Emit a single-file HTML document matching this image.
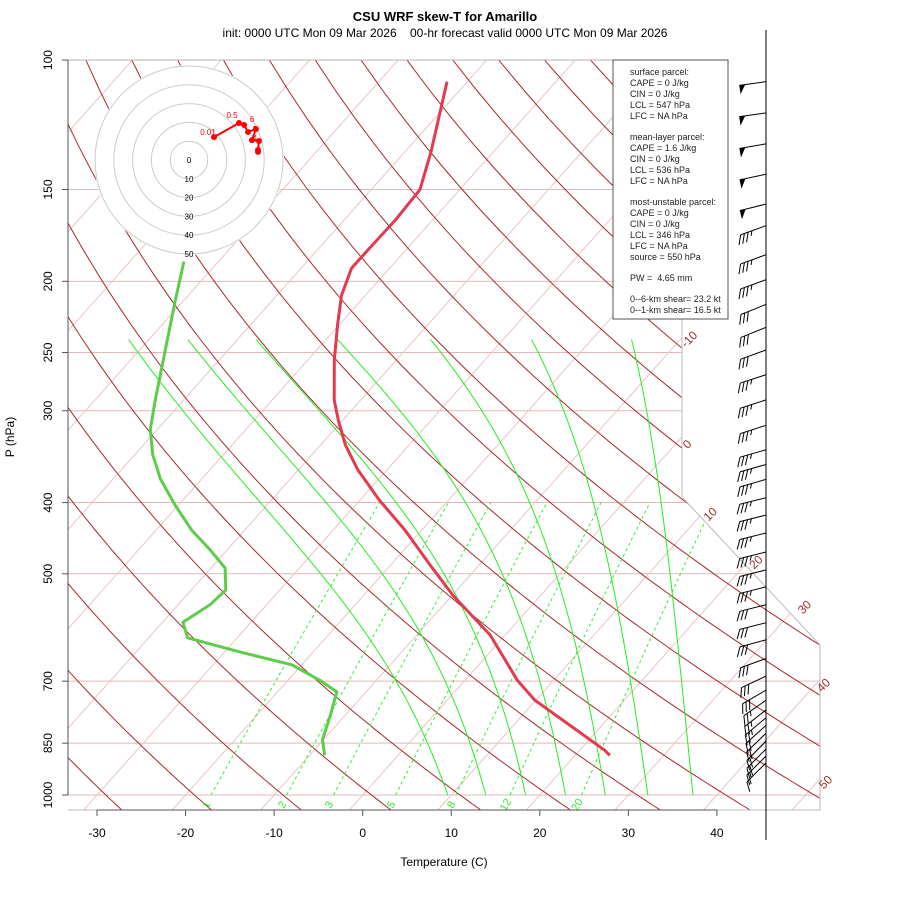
<!DOCTYPE html>
<html><head><meta charset="utf-8"><style>
body{margin:0;background:#fff}
svg{display:block;font-family:"Liberation Sans",sans-serif}
</style></head><body>
<svg id="c" width="900" height="900" viewBox="0 0 900 900">
<text x="445" y="21" font-size="13" font-weight="bold" text-anchor="middle">CSU WRF skew-T for Amarillo</text>
<text x="445" y="37" font-size="12" text-anchor="middle" style="white-space:pre">init: 0000 UTC Mon 09 Mar 2026    00-hr forecast valid 0000 UTC Mon 09 Mar 2026</text>
<defs><clipPath id="fr"><polygon points="68,60 682,60 682,497 820,645 820,810 68,810"/></clipPath></defs>
<g id="bg" clip-path="url(#fr)"></g>
<polyline points="68,60 682,60 682,497 820,645 820,810 68,810" fill="none" stroke="#bbb" stroke-width="1"/>
<g id="prof" clip-path="url(#fr)"></g>
<g id="axes"></g>
<g id="hodo"></g>
<g id="barbs"></g>
<g>
<rect x="613" y="60" width="115" height="259" fill="#fff" stroke="#555" stroke-width="1"/>
<text font-size="9" fill="#222">
<tspan x="630" y="75">surface parcel:</tspan><tspan x="630" y="86">CAPE = 0 J/kg</tspan><tspan x="630" y="97">CIN = 0 J/kg</tspan><tspan x="630" y="108">LCL = 547 hPa</tspan><tspan x="630" y="119">LFC = NA hPa</tspan>
<tspan x="630" y="140">mean-layer parcel:</tspan><tspan x="630" y="151">CAPE = 1.6 J/kg</tspan><tspan x="630" y="162">CIN = 0 J/kg</tspan><tspan x="630" y="173">LCL = 536 hPa</tspan><tspan x="630" y="184">LFC = NA hPa</tspan>
<tspan x="630" y="205">most-unstable parcel:</tspan><tspan x="630" y="216">CAPE = 0 J/kg</tspan><tspan x="630" y="227">CIN = 0 J/kg</tspan><tspan x="630" y="238">LCL = 346 hPa</tspan><tspan x="630" y="249">LFC = NA hPa</tspan><tspan x="630" y="260">source = 550 hPa</tspan>
<tspan x="630" y="281" style="white-space:pre">PW =  4.65 mm</tspan>
<tspan x="630" y="302">0--6-km shear= 23.2 kt</tspan><tspan x="630" y="313">0--1-km shear= 16.5 kt</tspan>
</text></g>
<line x1="766" y1="30" x2="766" y2="840" stroke="#000" stroke-width="1"/>
<text x="444" y="866" font-size="12" text-anchor="middle">Temperature (C)</text>
<text x="14" y="437" font-size="12" text-anchor="middle" transform="rotate(-90 14 437)">P (hPa)</text>
</svg>
<script>
// ---- data ----
const tempP = [107,133,150,165,181,192,209,229,256,290,309,334,361,397,436,486,535,606,655,698,743,804,869,883];
const tempC = [-62.3,-57.1,-54.5,-54.2,-54.3,-54.3,-52.7,-50.2,-47.0,-43.0,-40.5,-37.2,-33.3,-27.8,-21.9,-15.6,-9.9,-1.7,2.5,5.9,9.9,16.4,22.8,23.9];
const dewP = [188,212,248,290,318,344,372,403,436,464,491,526,551,582,611,639,665,698,724,778,841,883];
const dewC = [-73.9,-71.0,-67.1,-63.2,-60.8,-58.0,-54.6,-50.4,-46.0,-41.9,-38.4,-36.1,-36.4,-37.7,-35.6,-28.2,-21.1,-16.4,-13.3,-11.7,-10.1,-8.3];
const pTicks = [100,150,200,250,300,400,500,700,850,1000];
const tTicks = [-30,-20,-10,0,10,20,30,40];
const isoLabels = [-10,0,10,20,30,40,50];
const mixRatios = [1,2,3,5,8,12,20];
const moistThetaW = [9.6,13.9,18.4,22.9,27.4,32.2,37.3];
const moistTopC = [-72.3,-65.6,-57.9,-48.7,-38.2,-26.8,-15.5];
const barbP = [107,118,130,143,157,168,184,199,215,231,248,268,290,314,339,355,372,394,416,440,467,494,521,551,583,615,652,689,720,743,766,785,804,824,845,866,885,904];
const barbSpd = [50,50,50,50,50,35,35,35,30,30,30,35,35,35,35,35,35,35,35,35,35,35,35,30,30,30,30,30,30,25,25,25,20,20,20,20,15,15];
const barbDir = [262,262,260,258,256,250,250,250,248,248,250,252,252,252,254,254,254,256,256,256,256,256,256,256,256,255,250,245,240,235,232,230,228,226,225,225,225,225];
const hodoU = [13.3,26.6,29.3,31.4,35.6,33.5,37.2,36.7,36.7];
const hodoV = [12.2,19.7,18.6,14.9,16.5,10.6,10.1,5.3,4.3];
// ---- scales ----
const NS='http://www.w3.org/2000/svg';
function yu(p){return 132.182-44.061*Math.log10(p);}
function Y(p){return 795-16.68*yu(p);}
function X(T,p){return 362.7+16.4*(0.54*T+0.90692*yu(p));}
function el(tag,attrs,parent){const e=document.createElementNS(NS,tag);for(const k in attrs)e.setAttribute(k,attrs[k]);parent.appendChild(e);return e;}
function pts(arr){return arr.map(a=>a[0].toFixed(1)+','+a[1].toFixed(1)).join(' ');}
const bg=document.getElementById('bg'),prof=document.getElementById('prof'),axes=document.getElementById('axes');
// isobars
for(const p of pTicks){const l=el('line',{x1:68,x2:820,y1:Y(p),y2:Y(p),stroke:'#e2b9b9','stroke-width':1},bg);

}
// isotherms
for(let T=-150;T<=60;T+=10){const a=[[X(T,1050),Y(1050)],[X(T,100),Y(100)]];
const l=el('polyline',{points:pts(a),fill:'none',stroke:'#ecc4c4','stroke-width':1},bg);

}
// dry adiabats
for(let th=-39;th<=221;th+=10){const a=[];for(let p=1050;p>=100;p-=10){a.push([X((th+273.15)*Math.pow(p/1000,0.2857)-273.15,p),Y(p)]);}
const l=el('polyline',{points:pts(a),fill:'none',stroke:'#a52a2a','stroke-width':1},bg);

}
// mixing ratio lines
function esat(Tc){return 6.112*Math.exp(17.67*Tc/(Tc+243.5));}
for(const w of mixRatios){const a=[];for(let p=1000;p>=400;p-=10){const e=w*p/(622+w);const L=Math.log(e/6.112);a.push([X(243.5*L/(17.67-L),p),Y(p)]);}
const l=el('polyline',{points:pts(a),fill:'none',stroke:'#33ee33','stroke-width':1,'stroke-dasharray':'3,3'},bg);


const e=w*1000/(622+w);const L=Math.log(e/6.112);const lx=X(243.5*L/(17.67-L),1000)-4;
const t=el('text',{x:lx,y:808,'font-size':11,fill:'#33ee33','text-anchor':'middle',transform:'rotate(-60 '+lx+' 805)'},axes);t.textContent=w;

}
// moist adiabats (integrated, then blended to match read top temperatures)
moistThetaW.forEach((tw,k)=>{let T=tw+273.15;const raw=[[1000,tw]];
for(let p=1000;p>240;p-=2){const Tc=T-273.15;const es=esat(Tc);const rs=0.622*es/(p-es);
const dTdp=(287*T+2.5e6*rs)/(p*(1005+2.5e6*2.5e6*rs*0.622/(287*T*T)));T-=dTdp*2;raw.push([p-2,T-273.15]);}
const corr=moistTopC[k]-raw[raw.length-1][1];const span=Math.log(1000/240);
const a=raw.map(r=>{const w=Math.log(1000/r[0])/span;return [X(r[1]+corr*w,r[0]),Y(r[0])];});
const l=el('polyline',{points:pts(a),fill:'none',stroke:'#22ee22','stroke-width':1},bg);

});
// profiles
const tl=el('polyline',{points:pts(tempP.map((p,i)=>[X(tempC[i],p),Y(p)])),fill:'none',stroke:'#e33a50','stroke-width':3,'stroke-linejoin':'round'},prof);


const dl=el('polyline',{points:pts(dewP.map((p,i)=>[X(dewC[i],p),Y(p)])),fill:'none',stroke:'#5ccc4a','stroke-width':3,'stroke-linejoin':'round'},prof);


// axes
el('line',{x1:68,x2:68,y1:60,y2:795,stroke:'#555'},axes);
el('line',{x1:X(tTicks[0],1000),x2:X(tTicks[tTicks.length-1],1000),y1:810,y2:810,stroke:'#555'},axes);
for(const p of pTicks){const y=Y(p);el('line',{x1:62,x2:68,y1:y,y2:y,stroke:'#555'},axes);
const t=el('text',{x:52,y:y,'font-size':12,'text-anchor':'middle',transform:'rotate(-90 52 '+y+')'},axes);t.textContent=p;

}
for(const T of tTicks){const x=X(T,1000);el('line',{x1:x,x2:x,y1:810,y2:816,stroke:'#555'},axes);
const t=el('text',{x:x,y:837,'font-size':12,'text-anchor':'middle'},axes);t.textContent=T;

}
// isotherm labels along right edge
const isoLabelY=[342,447,517,565,610,688,785];
isoLabels.forEach((T,i)=>{const y=isoLabelY[i];const x=Math.max(690,Math.min(832,X(T,Math.pow(10,2+(y-60)/735))+14));
const t=el('text',{x:x,y:y,'font-size':12,fill:'#a52a2a','text-anchor':'middle',transform:'rotate(-45 '+x+' '+y+')'},axes);t.textContent=T;

});
// hodograph
const hodo=document.getElementById('hodo');const cx=189,cy=160,sc=1.88;
el('circle',{cx:cx,cy:cy,r:95,fill:'#fff',stroke:'none'},hodo);
for(let r=10;r<=50;r+=10){el('circle',{cx:cx,cy:cy,r:r*sc,fill:'none',stroke:'#ccc'},hodo);}
for(let r=0;r<=50;r+=10){const t=el('text',{x:cx,y:cy+r*sc+3,'font-size':8,'text-anchor':'middle'},hodo);t.textContent=r;

}
const hp=hodoU.map((u,i)=>[cx+u*sc,cy-hodoV[i]*sc]);
const hl=el('polyline',{points:pts(hp),fill:'none',stroke:'#f00','stroke-width':2},hodo);


hp.forEach(q=>{const c=el('circle',{cx:q[0],cy:q[1],r:3,fill:'#f00'},hodo);

});
[['0.01',hp[0][0]-6,hp[0][1]-2],['0.5',hp[1][0]-7,hp[1][1]-5],['6',hp[2][0]+8,hp[2][1]-3],['5',hp[4][0]-1,hp[4][1]+3],['4',hp[6][0]-4,hp[6][1]]].forEach(a=>{
const t=el('text',{x:a[1],y:a[2],'font-size':8,fill:'#f00','text-anchor':'middle'},hodo);t.textContent=a[0];

});
// wind barbs
const bg2=document.getElementById('barbs');
barbP.forEach((p,i)=>{const y=Y(p),x=766,L=27;const d=barbDir[i]*Math.PI/180;
const ux=Math.sin(d),uy=-Math.cos(d);const tx=x+L*ux,ty=y+L*uy;const px=uy,py=-ux;
const g=el('g',{},bg2);


el('line',{x1:x,y1:y,x2:tx,y2:ty,stroke:'#000','stroke-width':1},g);
let s=barbSpd[i],pos=0;
while(s>=50){el('polygon',{points:pts([[tx-ux*pos,ty-uy*pos],[tx-ux*(pos+6),ty-uy*(pos+6)],[tx-ux*pos+px*9,ty-uy*pos+py*9]]),fill:'#000'},g);pos+=7;s-=50;}
while(s>=10){const bx=tx-ux*pos,by=ty-uy*pos;el('line',{x1:bx,y1:by,x2:bx+px*9+ux*5,y2:by+py*9+uy*5,stroke:'#000'},g);pos+=4;s-=10;}
if(s>=5){if(pos===0)pos=4;const bx=tx-ux*pos,by=ty-uy*pos;el('line',{x1:bx,y1:by,x2:bx+px*4.5+ux*2.5,y2:by+py*4.5+uy*2.5,stroke:'#000'},g);}
});
</script>
</body></html>
